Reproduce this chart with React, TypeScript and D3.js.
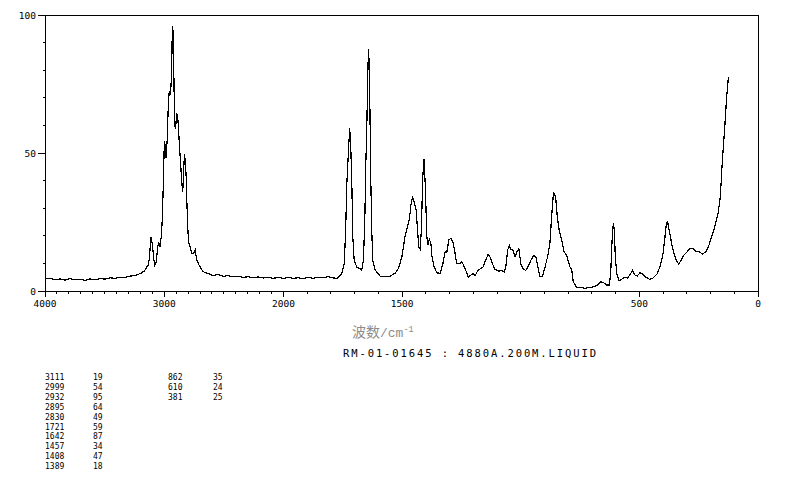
import React from "react";
import * as d3 from "d3";

const wavenumbers = [
  4000, 3958, 3916, 3874, 3832, 3790, 3748, 3706, 3664, 3622, 3580, 3538, 3496, 3454, 3413, 3371, 3329, 3287, 3245, 3219,
  3194, 3168, 3151, 3134, 3123, 3117, 3111, 3098, 3090, 3081, 3068, 3056, 3048, 3035, 3022, 3014, 3006, 2999, 2991, 2985,
  2975, 2965, 2957, 2947, 2938, 2932, 2924, 2917, 2912, 2904, 2897, 2888, 2879, 2870, 2861, 2853, 2845, 2838, 2831, 2822,
  2815, 2806, 2797, 2783, 2769, 2755, 2741, 2727, 2708, 2674, 2632, 2590, 2548, 2506, 2464, 2422, 2380, 2338, 2296, 2254,
  2212, 2170, 2128, 2086, 2044, 2000, 1980, 1959, 1938, 1917, 1896, 1875, 1854, 1833, 1812, 1795, 1775, 1754, 1744, 1738,
  1733, 1726, 1721, 1716, 1712, 1708, 1702, 1691, 1680, 1670, 1663, 1657, 1653, 1649, 1646, 1642, 1638, 1635, 1632, 1628,
  1624, 1614, 1604, 1593, 1572, 1551, 1530, 1515, 1501, 1488, 1478, 1469, 1462, 1456, 1450, 1441, 1435, 1430, 1424, 1419,
  1413, 1408, 1402, 1396, 1391, 1385, 1379, 1374, 1365, 1354, 1340, 1328, 1319, 1312, 1303, 1295, 1286, 1278, 1270, 1256,
  1248, 1235, 1221, 1210, 1200, 1193, 1181, 1168, 1158, 1148, 1137, 1130, 1120, 1109, 1095, 1080, 1069, 1062, 1055, 1048,
  1041, 1033, 1024, 1016, 1008, 999, 988, 979, 968, 957, 946, 936, 928, 920, 908, 898, 887, 877, 870, 862,
  853, 846, 838, 828, 817, 807, 793, 785, 779, 765, 751, 730, 709, 688, 673, 663, 651, 638, 627, 621,
  615, 610, 606, 602, 596, 585, 575, 564, 550, 540, 529, 519, 509, 498, 487, 473, 456, 442, 425, 411,
  400, 392, 386, 381, 372, 360, 347, 335, 325, 313, 299, 285, 274, 262, 248, 234, 220, 209, 196, 182,
  168, 159, 150, 140, 133, 126, 122,
];

const intensities = [
  4.3, 4.6, 4.0, 4.4, 3.9, 4.5, 4.1, 4.3, 3.8, 4.4, 4.0, 4.5, 4.3, 4.8, 4.6, 5.0, 4.9, 5.4, 5.6, 6.0,
  6.5, 7.2, 8.3, 9.5, 12, 17, 19.5, 16.5, 12.4, 9.4, 10.5, 15.5, 17.8, 16, 21, 29, 42, 54.5, 52, 48.3,
  55, 69, 72.5, 71, 79.5, 96, 93.5, 71, 59.5, 59, 64.2, 63.8, 57.5, 51, 45, 39, 36, 42.5, 49.6, 47,
  40, 26, 18, 16, 13.5, 13.5, 14.9, 11.2, 9.4, 7.0, 6.3, 5.6, 6.0, 5.3, 5.6, 5.1, 5.4, 4.9, 5.2, 4.8,
  5.1, 4.7, 5.0, 4.6, 4.9, 4.6, 4.9, 4.6, 4.8, 4.5, 4.9, 4.6, 5.0, 4.8, 5.2, 4.8, 4.6, 6.4, 10, 22,
  39, 51, 59, 51, 39, 19.7, 11.2, 8.6, 8.2, 7.6, 11.2, 26.9, 46.3, 58.3, 74, 87.6, 81.3, 60.8, 40.2, 22,
  11.2, 7.6, 6.6, 5.4, 5.2, 5.4, 6.4, 8.2, 12.4, 19.7, 23.3, 26.3, 31.8, 34.2, 32.4, 29.3, 22, 16, 15.1, 22,
  41.4, 47.7, 37.8, 19.7, 16.7, 18.7, 17.3, 12.4, 8.8, 6.6, 6.4, 10, 14.2, 13.9, 18.5, 19.1, 17.9, 14.2, 10, 10,
  10.6, 8.2, 5.0, 5.8, 6.4, 5.4, 7.4, 8.2, 8.8, 11.2, 13.3, 12.4, 10, 7.9, 7.2, 7.4, 6.9, 9.4, 14.9, 16.4,
  14.9, 14.9, 12.4, 14.2, 15.2, 9.4, 7.9, 7.4, 9.1, 11.2, 12.9, 12.2, 8.8, 5.4, 5.2, 8.6, 12.4, 17.3, 26.9, 35.6,
  34.2, 26.9, 22, 18.5, 14.2, 13, 8.8, 7.6, 3.4, 1.3, 1.3, 1.0, 1.3, 1.6, 2.4, 3.3, 3.0, 2.2, 2.2, 6.4,
  18.5, 24.5, 22.7, 13.7, 6.4, 3.7, 4.2, 5.0, 4.7, 5.8, 7.4, 5.8, 5.4, 6.6, 6.2, 5.0, 4.2, 4.7, 6.2, 9.4,
  13.7, 19.7, 24.7, 25.1, 20.9, 15.5, 11.5, 9.8, 10.9, 13, 14.2, 15.5, 15.5, 14.2, 14.2, 13.4, 14.2, 16, 19.5, 23.3,
  28.2, 34, 47.5, 59.5, 69.2, 76.4, 77.6,
];

const peakWavenumbers = [3111, 2999, 2932, 2895, 2830, 1721, 1642, 1457, 1408, 1389, 862, 610, 381];
const peakIntensities = [19, 54, 95, 64, 49, 59, 87, 34, 47, 18, 35, 24, 25];
const xTickLabels = [4000, 3000, 2000, 1500, 500, 0];
const yTickLabels = [0, 50, 100];
const xTitleCJK = "波数";
const xTitleUnit = "/cm";
const xTitleSup = "-1";
const sampleTitle = "RM-01-01645 : 4880A.200M.LIQUID";

const MONO = "'DejaVu Sans Mono', monospace";

export default function App() {
  const W = 794;
  const H = 482;
  const x = d3.scaleLinear().domain([4000, 2000, 0]).range([45, 283.5, 758]);
  const y = d3.scaleLinear().domain([0, 100]).range([291, 15]);

  const pts = wavenumbers.map((w, i) => [w, intensities[i]] as [number, number]);
  const line = d3
    .line<[number, number]>()
    .x((d) => x(d[0]))
    .y((d) => y(d[1]));

  const xMinor = d3.range(4000, -1, -100);
  const yMinor = d3.range(0, 101, 10);
  const x0 = x(4000);
  const x1 = x(0);
  const yb = y(0);
  const yt = y(100);

  const col1 = peakWavenumbers.slice(0, 10).map((w, i) => ({ w, v: peakIntensities[i], i }));
  const col2 = peakWavenumbers.slice(10).map((w, i) => ({ w, v: peakIntensities[10 + i], i }));

  return (
    <div style={{ position: "fixed", left: 0, top: 0, width: W, height: H, background: "#fff" }}>
      <svg width={W} height={H} viewBox={`0 0 ${W} ${H}`} style={{ display: "block" }}>
        <rect x={0} y={0} width={W} height={H} fill="#fff" />
        <g shapeRendering="crispEdges">
          <line x1={x0} x2={x1} y1={yb} y2={yb} stroke="#000" strokeWidth={1} />
          <line x1={x0} x2={x1} y1={yt} y2={yt} stroke="#000" strokeWidth={1} />
          <line x1={x0} x2={x0} y1={yt} y2={yb} stroke="#000" strokeWidth={1} />
          <line x1={x1} x2={x1} y1={yt} y2={yb} stroke="#000" strokeWidth={1} />
          {xMinor.map((t) => {
            const major = xTickLabels.includes(t);
            return (
              <line key={"xt" + t} x1={x(t)} x2={x(t)} y1={yb} y2={yb + (major ? 6 : 3)} stroke="#000" strokeWidth={1} />
            );
          })}
          {yMinor.map((t) => {
            const major = yTickLabels.includes(t);
            return (
              <line key={"yt" + t} x1={x0 - (major ? 7 : 2.5)} x2={x0} y1={y(t)} y2={y(t)} stroke="#000" strokeWidth={1} />
            );
          })}
        </g>
        {xTickLabels.map((t) => (
          <text key={"xl" + t} x={x(t)} y={yb + 16} fontFamily={MONO} fontSize={9.5} textAnchor="middle" fill="#000">
            {t}
          </text>
        ))}
        {yTickLabels.map((t) => (
          <text key={"yl" + t} x={36} y={y(t) + 3.5} fontFamily={MONO} fontSize={9.5} textAnchor="end" fill="#000">
            {t}
          </text>
        ))}
        <path d={line(pts) || ""} fill="none" stroke="#000" strokeWidth={1.2} shapeRendering="crispEdges" />
        <text x={352} y={337} fill="#8c8c8c">
          <tspan fontFamily="'Noto Sans CJK SC', sans-serif" fontSize={14}>
            {xTitleCJK}
          </tspan>
          <tspan fontFamily="'Liberation Mono', 'DejaVu Sans Mono', monospace" fontSize={13}>
            {xTitleUnit}
          </tspan>
          <tspan fontFamily="'Liberation Mono', monospace" fontSize={8.5} dy={-5}>
            {xTitleSup}
          </tspan>
        </text>
        <text x={343} y={357} fontFamily={MONO} fontSize={10.5} textLength={253} lengthAdjust="spacing" fill="#000">
          {sampleTitle}
        </text>
        {col1.map((r) => (
          <g key={"c1" + r.i}>
            <text x={45} y={380 + r.i * 9.9} fontFamily={MONO} fontSize={8} fill="#000">
              {r.w}
            </text>
            <text x={93} y={380 + r.i * 9.9} fontFamily={MONO} fontSize={8} fill="#000">
              {r.v}
            </text>
          </g>
        ))}
        {col2.map((r) => (
          <g key={"c2" + r.i}>
            <text x={168} y={380 + r.i * 9.9} fontFamily={MONO} fontSize={8} fill="#000">
              {r.w}
            </text>
            <text x={213} y={380 + r.i * 9.9} fontFamily={MONO} fontSize={8} fill="#000">
              {r.v}
            </text>
          </g>
        ))}
      </svg>
    </div>
  );
}
